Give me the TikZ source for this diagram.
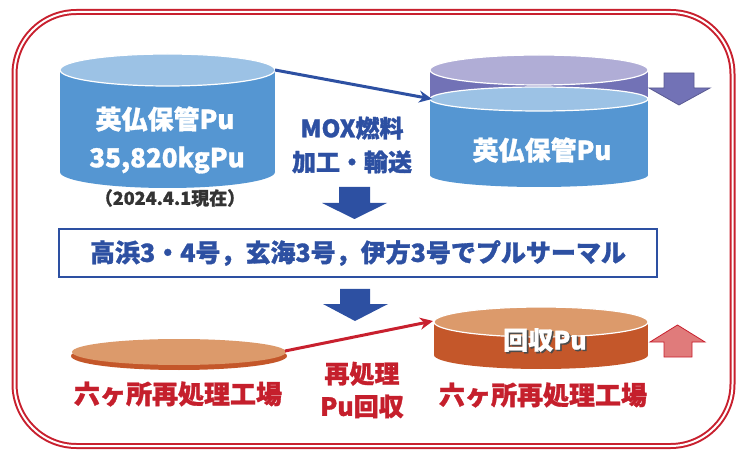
\documentclass[tikz,border=0pt]{standalone}
\usepackage{fontspec}
\setmainfont{Noto Sans CJK JP}[BoldFeatures={FakeBold=1.2}]
\usetikzlibrary{arrows.meta,positioning,calc}

\definecolor{framered}{HTML}{C8202E}
\definecolor{navy}{HTML}{2D50A2}
\definecolor{tankside}{HTML}{5596D2}
\definecolor{tanktop}{HTML}{9CC2E5}
\definecolor{lavtop}{HTML}{B0ADD6}
\definecolor{lavside}{HTML}{7272B6}
\definecolor{cuptop}{HTML}{DC9A6B}
\definecolor{cupside}{HTML}{C4572A}
\definecolor{pinkarr}{HTML}{E07B7B}
\definecolor{rokka}{HTML}{C51F2C}

\newcommand{\fs}[1]{\fontsize{#1}{#1}\selectfont\bfseries}

\begin{document}
\begin{tikzpicture}[
    x=1pt, y=-1pt,
    rim/.style={draw=white, line width=1.2pt},
    lbl/.style={inner sep=0pt, align=center},
    flow/.style={line width=3pt, -{Stealth[length=13pt,width=12pt]}},
    blockarr/.style={line width=0.8pt, line join=miter}
]
    \useasboundingbox (0,0) rectangle (744,454);

    % double red frame
    \draw[framered, line width=6pt, rounded corners=62pt] (14.5,12) rectangle (732.5,446);
    \draw[white, line width=2pt, rounded corners=62pt] (14.5,12) rectangle (732.5,446);

    % stock held in UK/France (left tank)
    \fill[tankside] (60,70) rectangle (275,172);
    \fill[tankside] (167.5,172) ellipse [x radius=107.5, y radius=16];
    \filldraw[fill=tanktop, rim] (167.5,70) ellipse [x radius=107.5, y radius=16];
    \coordinate (stockout) at (275,70);

    % same stock after shrinking (right tank)
    \fill[lavside] (430,70) rectangle (648,99);
    \filldraw[fill=lavtop, rim] (539,70) ellipse [x radius=109, y radius=15];
    \fill[tankside] (430,99) rectangle (648,175);
    \fill[tankside] (539,175) ellipse [x radius=109, y radius=12];
    \filldraw[fill=tanktop, rim] (539,99) ellipse [x radius=109, y radius=12];
    \coordinate (stockin) at (432,99);

    % Rokkasho, before (flat disc)
    \fill[cupside] (179,356) ellipse [x radius=108, y radius=14];
    \fill[cuptop] (179,352) ellipse [x radius=107, y radius=13];
    \coordinate (rokkaout) at (285,351);

    % Rokkasho, after (right tank)
    \fill[cupside] (434,322) rectangle (648,355);
    \fill[cupside] (541,355) ellipse [x radius=107, y radius=14];
    \filldraw[fill=cuptop, rim] (541,322) ellipse [x radius=107, y radius=15];
    \coordinate (rokkain) at (433,321);

    % tank labels
    \node[lbl, white] (stockname) at (165,119) {\fs{26}英仏保管Pu};
    \node[lbl, white] (stockamount) at (167,160) {\fs{26}35,820kgPu};
    \node[lbl, black!80] (asof) at (170,198) {\fs{18}（2024.4.1現在）};
    \node[lbl, white] (stocknameR) at (542,150) {\fs{26}英仏保管Pu};
    \node[lbl, black!70] at (546.5,341.5) {\fs{25}回収Pu};
    \node[lbl, white] (recovered) at (545,340) {\fs{25}回収Pu};

    % MOX route
    \draw[flow, navy] (stockout) -- (stockin);
    \node[lbl, navy] (mox) at (352,145) {\fs{24}MOX燃料\\[10pt]\fs{24}加工・輸送};

    % reprocessing route
    \draw[flow, framered] (rokkaout) -- (rokkain);
    \node[lbl, rokka] (reproc) at (362,390) {\fs{25}再処理\\[8pt]\fs{25}Pu回収};

    \node[lbl, rokka] (rokkaL) at (178,394) {\fs{26}六ヶ所再処理工場};
    \node[lbl, rokka] (rokkaR) at (543,395) {\fs{26}六ヶ所再処理工場};

    % pluthermal reactors
    \node[draw=navy, line width=1.5pt, minimum width=598pt, minimum height=48pt, inner sep=0pt]
        (pluthermal) at (358,253) {};
    \node[lbl, navy] at (pluthermal) {\fs{25}高浜3・4号，玄海3号，伊方3号でプルサーマル};

    % block arrows
    \fill[navy] (339,187) -- (370,187) -- (370,203) -- (387,203) -- (354.5,219)
        -- (322,203) -- (339,203) -- cycle;
    \fill[navy] (340,289) -- (370,289) -- (370,304) -- (388,304) -- (355,321)
        -- (323,304) -- (340,304) -- cycle;
    \filldraw[blockarr, fill=lavside, draw=lavside!80!black] (664,73) -- (694,73) -- (694,88)
        -- (710,88) -- (679,105) -- (649,88) -- (664,88) -- cycle;
    \filldraw[blockarr, fill=pinkarr, draw=framered] (664,357) -- (692,357) -- (692,342)
        -- (705,342) -- (677.5,325) -- (650,342) -- (664,342) -- cycle;
\end{tikzpicture}
\end{document}
